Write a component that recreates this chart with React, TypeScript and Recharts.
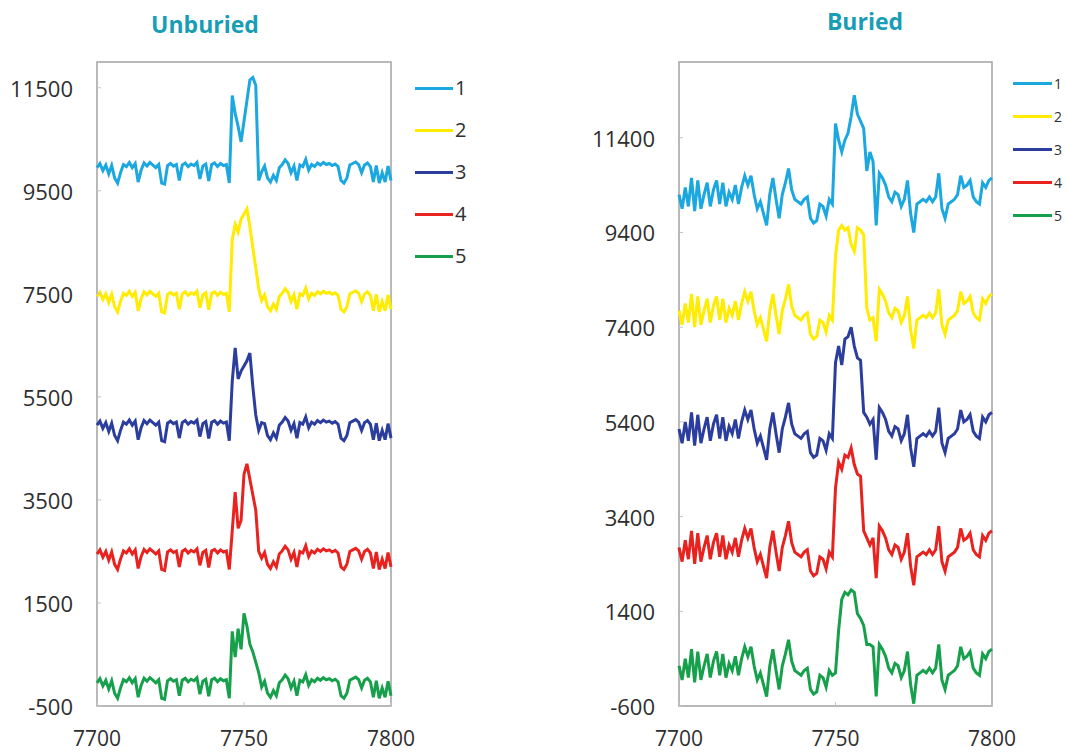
import React from 'react';
import { LineChart, Line, XAxis, YAxis, ReferenceArea, Legend } from 'recharts';

// Wavenumber axis (categories)
const wavenumbers = [
  7700, 7701, 7702, 7703, 7704, 7705, 7706, 7707, 7708, 7709,
  7710, 7711, 7712, 7713, 7714, 7715, 7716, 7717, 7718, 7719,
  7720, 7721, 7722, 7723, 7724, 7725, 7726, 7727, 7728, 7729,
  7730, 7731, 7732, 7733, 7734, 7735, 7736, 7737, 7738, 7739,
  7740, 7741, 7742, 7743, 7744, 7745, 7746, 7747, 7748, 7749,
  7750, 7751, 7752, 7753, 7754, 7755, 7756, 7757, 7758, 7759,
  7760, 7761, 7762, 7763, 7764, 7765, 7766, 7767, 7768, 7769,
  7770, 7771, 7772, 7773, 7774, 7775, 7776, 7777, 7778, 7779,
  7780, 7781, 7782, 7783, 7784, 7785, 7786, 7787, 7788, 7789,
  7790, 7791, 7792, 7793, 7794, 7795, 7796, 7797, 7798, 7799,
  7800,
];

// Unburied series
const unburied1 = [
  9950, 10030, 9890, 10000, 9830, 9990, 9750, 9650, 9850, 10010,
  9970, 10050, 9950, 10030, 9670, 9900, 10040, 9980, 10050, 10000,
  9950, 10010, 9650, 9630, 9990, 10030, 9980, 10010, 9700, 10000,
  10040, 9970, 10020, 9990, 10050, 9730, 9980, 10020, 9690, 10010,
  10040, 9970, 10030, 9990, 10010, 9650, 11350, 11000, 10750, 10450,
  10850, 11250, 11650, 11700, 11550, 9700, 9870, 9980, 9750, 9670,
  9800, 9700, 9950, 10010, 10100, 10030, 9850, 9980, 9700, 10000,
  9970, 10110, 9900, 10010, 9970, 10040, 10000, 10050, 10010, 10030,
  9990, 10020, 9970, 9700, 9650, 9750, 10000, 10030, 10060, 10010,
  9850, 10000, 10040, 9970, 9670, 9990, 9650, 9850, 9670, 9980,
  9700,
];
const unburied2 = [
  7450, 7530, 7390, 7500, 7330, 7490, 7250, 7150, 7350, 7510,
  7470, 7550, 7450, 7530, 7170, 7400, 7540, 7480, 7550, 7500,
  7450, 7510, 7150, 7130, 7490, 7530, 7480, 7510, 7200, 7500,
  7540, 7470, 7520, 7490, 7550, 7230, 7480, 7520, 7190, 7510,
  7540, 7470, 7530, 7490, 7510, 7150, 8550, 8850, 8700, 8950,
  9050, 9150, 8800, 8400, 8000, 7600, 7370, 7480, 7250, 7170,
  7300, 7200, 7450, 7510, 7600, 7530, 7350, 7480, 7200, 7500,
  7470, 7610, 7400, 7510, 7470, 7540, 7500, 7550, 7510, 7530,
  7490, 7520, 7470, 7200, 7150, 7250, 7500, 7530, 7560, 7510,
  7350, 7500, 7540, 7470, 7170, 7490, 7150, 7350, 7170, 7480,
  7200,
];
const unburied3 = [
  4950, 5030, 4890, 5000, 4830, 4990, 4750, 4650, 4850, 5010,
  4970, 5050, 4950, 5030, 4670, 4900, 5040, 4980, 5050, 5000,
  4950, 5010, 4650, 4630, 4990, 5030, 4980, 5010, 4700, 5000,
  5040, 4970, 5020, 4990, 5050, 4730, 4980, 5020, 4690, 5010,
  5040, 4970, 5030, 4990, 5010, 4650, 5800, 6450, 5850, 6000,
  6100, 6200, 6350, 5700, 5150, 4850, 5000, 4980, 4750, 4670,
  4800, 4700, 4950, 5010, 5100, 5030, 4850, 4980, 4700, 5000,
  4970, 5110, 4900, 5010, 4970, 5040, 5000, 5050, 5010, 5030,
  4990, 5020, 4970, 4700, 4650, 4750, 5000, 5030, 5060, 5010,
  4850, 5000, 5040, 4970, 4670, 4990, 4650, 4850, 4670, 4980,
  4700,
];
const unburied4 = [
  2450, 2530, 2390, 2500, 2330, 2490, 2250, 2150, 2350, 2510,
  2470, 2550, 2450, 2530, 2170, 2400, 2540, 2480, 2550, 2500,
  2450, 2510, 2150, 2130, 2490, 2530, 2480, 2510, 2200, 2500,
  2540, 2470, 2520, 2490, 2550, 2230, 2480, 2520, 2190, 2510,
  2540, 2470, 2530, 2490, 2510, 2150, 2900, 3650, 2950, 3100,
  4000, 4200, 3900, 3600, 3300, 2500, 2370, 2480, 2250, 2170,
  2300, 2200, 2450, 2510, 2600, 2530, 2350, 2480, 2200, 2500,
  2470, 2610, 2400, 2510, 2470, 2540, 2500, 2550, 2510, 2530,
  2490, 2520, 2470, 2200, 2150, 2250, 2500, 2530, 2560, 2510,
  2350, 2500, 2540, 2470, 2170, 2490, 2150, 2350, 2170, 2480,
  2200,
];
const unburied5 = [
  -50, 30, -110, 0, -170, -10, -250, -350, -150, 10,
  -30, 50, -50, 30, -330, -100, 40, -20, 50, 0,
  -50, 10, -350, -370, -10, 30, -20, 10, -300, 0,
  40, -30, 20, -10, 50, -270, -20, 20, -310, 10,
  40, -30, 30, -10, 10, -350, 950, 450, 1000, 600,
  1300, 1050, 700, 550, 350, 150, -130, -20, -250, -330,
  -200, -300, -50, 10, 100, 30, -150, -20, -300, 0,
  -30, 110, -100, 10, -30, 40, 0, 50, 10, 30,
  -10, 20, -30, -300, -350, -250, 0, 30, 60, 10,
  -150, 0, 40, -30, -330, -10, -350, -150, -330, -20,
  -300,
];

// Buried series
const buried1 = [
  10200, 9900, 10350, 9950, 10550, 9850, 10500, 9900, 10200, 10450,
  9950, 10300, 10500, 10000, 10450, 9950, 10250, 10100, 10400, 10000,
  10350, 10600, 10400, 10600, 10200, 9900, 10050, 9800, 9550, 10200,
  10550, 10100, 9700, 10200, 10450, 10750, 10300, 10100, 10050, 10000,
  10100, 10150, 9700, 9600, 9650, 10000, 9950, 9750, 10100, 10000,
  11700, 11350, 11100, 11350, 11500, 11850, 12300, 11900, 11750, 11600,
  10700, 11100, 10900, 9550, 10650, 10550, 10400, 10150, 10050, 10250,
  10200, 9950, 10100, 10500, 9800, 9400, 10000, 10050, 10100, 10050,
  10150, 10050, 10150, 10650, 9900, 9700, 10000, 10050, 10100, 10200,
  10600, 10350, 10400, 10500, 10150, 10050, 10000, 10450, 10350, 10500,
  10550,
];
const buried2 = [
  7750, 7450, 7900, 7500, 8100, 7400, 8050, 7450, 7750, 8000,
  7500, 7850, 8050, 7550, 8000, 7500, 7800, 7650, 7950, 7550,
  7900, 8150, 7950, 8150, 7750, 7450, 7600, 7350, 7100, 7750,
  8100, 7650, 7250, 7750, 8000, 8300, 7850, 7650, 7600, 7550,
  7650, 7700, 7250, 7150, 7200, 7550, 7500, 7300, 7650, 7550,
  8900, 9450, 9550, 9450, 9500, 9150, 9000, 9500, 9450, 9350,
  7800, 7550, 7600, 7100, 8200, 8100, 7950, 7700, 7600, 7800,
  7750, 7500, 7650, 8050, 7350, 6950, 7550, 7600, 7650, 7600,
  7700, 7600, 7700, 8200, 7450, 7250, 7550, 7600, 7650, 7750,
  8150, 7900, 7950, 8050, 7700, 7600, 7550, 8000, 7900, 8050,
  8100,
];
const buried3 = [
  5250, 4950, 5400, 5000, 5600, 4900, 5550, 4950, 5250, 5500,
  5000, 5350, 5550, 5050, 5500, 5000, 5300, 5150, 5450, 5050,
  5400, 5650, 5450, 5650, 5250, 4950, 5100, 4850, 4600, 5250,
  5600, 5150, 4750, 5250, 5500, 5800, 5350, 5150, 5100, 5050,
  5150, 5200, 4750, 4650, 4700, 5050, 5000, 4800, 5150, 5050,
  6650, 7000, 6600, 7150, 7200, 7400, 7000, 6750, 6700, 5600,
  5500, 5350, 5450, 4600, 5700, 5600, 5450, 5200, 5100, 5300,
  5250, 5000, 5150, 5550, 4850, 4450, 5050, 5100, 5150, 5100,
  5200, 5100, 5200, 5700, 4950, 4750, 5050, 5100, 5150, 5250,
  5650, 5400, 5450, 5550, 5200, 5100, 5050, 5500, 5400, 5550,
  5600,
];
const buried4 = [
  2750, 2450, 2900, 2500, 3100, 2400, 3050, 2450, 2750, 3000,
  2500, 2850, 3050, 2550, 3000, 2500, 2800, 2650, 2950, 2550,
  2900, 3150, 2950, 3150, 2750, 2450, 2600, 2350, 2100, 2750,
  3100, 2650, 2250, 2750, 3000, 3300, 2850, 2650, 2600, 2550,
  2650, 2700, 2250, 2150, 2200, 2550, 2500, 2300, 2650, 2550,
  4000, 4550, 4400, 4700, 4650, 4850, 4500, 4300, 4250, 3100,
  2950, 2800, 2950, 2100, 3200, 3100, 2950, 2700, 2600, 2800,
  2750, 2500, 2650, 3050, 2350, 1950, 2550, 2600, 2650, 2600,
  2700, 2600, 2700, 3200, 2450, 2250, 2550, 2600, 2650, 2750,
  3150, 2900, 2950, 3050, 2700, 2600, 2550, 3000, 2900, 3050,
  3100,
];
const buried5 = [
  250, -50, 400, 0, 600, -100, 550, -50, 250, 500,
  0, 350, 550, 50, 500, 0, 300, 150, 450, 50,
  400, 650, 450, 650, 250, -50, 100, -150, -400, 250,
  600, 150, -250, 250, 500, 800, 350, 150, 100, 50,
  150, 200, -250, -350, -300, 50, 0, -200, 150, 50,
  100, 1000, 1650, 1800, 1750, 1850, 1800, 1350, 1250, 1100,
  700, 700, 650, -400, 700, 600, 450, 200, 100, 300,
  250, 0, 150, 550, -150, -550, 50, 100, 150, 100,
  200, 100, 200, 700, -50, -250, 50, 100, 150, 250,
  650, 400, 450, 550, 200, 100, 50, 500, 400, 550,
  600,
];

const seriesNames = ['1', '2', '3', '4', '5'];
const seriesColors = ['#1ba7df', '#ffec00', '#2b3d9d', '#e8221f', '#17a04b'];

const xTicks = [7700, 7750, 7800];
const unburiedTicks = [-500, 1500, 3500, 5500, 7500, 9500, 11500];
const buriedTicks = [-600, 1400, 3400, 5400, 7400, 9400, 11400];
const unburiedDomain = [-500, 12000];
const buriedDomain = [-600, 13000];

const seriesKeys = ['s1', 's2', 's3', 's4', 's5'];

const unburiedData = wavenumbers.map((x, i) => ({
  x,
  s1: unburied1[i],
  s2: unburied2[i],
  s3: unburied3[i],
  s4: unburied4[i],
  s5: unburied5[i],
}));
const buriedData = wavenumbers.map((x, i) => ({
  x,
  s1: buried1[i],
  s2: buried2[i],
  s3: buried3[i],
  s4: buried4[i],
  s5: buried5[i],
}));

const FONT = '"Open Sans", "Liberation Sans", sans-serif';
const TEXT = '#2e2e2e';

const YTick = (props: any) => {
  const { x, y, payload } = props;
  return (
    <g>
      <line x1={x + 24} x2={x + 28} y1={y} y2={y} stroke="#c4c4c4" strokeWidth={1} />
      <text x={x} y={y} textAnchor="end" dominantBaseline="central" fontSize={22} fill={TEXT} fontFamily={FONT}>
        {payload.value}
      </text>
    </g>
  );
};

const XTick = (props: any) => {
  const { x, y, payload } = props;
  return (
    <g>
      <line x1={x} x2={x} y1={y - 27} y2={y - 31} stroke="#c4c4c4" strokeWidth={1} />
      <text x={x} y={y + 12.5} textAnchor="middle" fontSize={21} fill={TEXT} fontFamily={FONT}>
        {payload.value}
      </text>
    </g>
  );
};

const makeLegend = (rowH: number, lineLen: number, fontSize: number) => (props: any) => {
  const payload = props.payload || [];
  return (
    <div style={{ fontFamily: FONT }}>
      {payload.map((item: any) => (
        <div key={item.value} style={{ display: 'flex', alignItems: 'center', height: rowH }}>
          <div style={{ width: lineLen, height: 3, background: item.color }} />
          <span style={{ fontSize, color: TEXT, marginLeft: 2, lineHeight: 1 }}>{item.value}</span>
        </div>
      ))}
    </div>
  );
};

type PanelProps = {
  data: any[];
  left: number;
  width: number;
  margin: { top: number; right: number; bottom: number; left: number };
  domain: number[];
  ticks: number[];
  legendLeft: number;
  legendTop: number;
  legendRow: number;
  legendLine: number;
  legendFont: number;
};

const Panel = (p: PanelProps) => (
  <div style={{ position: 'absolute', left: p.left, top: 0 }}>
    <LineChart width={p.width} height={752} data={p.data} margin={p.margin}>
      <ReferenceArea
        x1={7700}
        x2={7800}
        y1={p.domain[0]}
        y2={p.domain[1]}
        fill="none"
        stroke="#a3a3a3"
        strokeWidth={1.5}
        ifOverflow="visible"
      />
      <XAxis
        dataKey="x"
        type="number"
        domain={[7700, 7800]}
        ticks={xTicks}
        interval={0}
        axisLine={false}
        tickLine={false}
        tickSize={0}
        tickMargin={27}
        height={30}
        tick={<XTick />}
      />
      <YAxis
        type="number"
        domain={p.domain}
        ticks={p.ticks}
        interval={0}
        axisLine={false}
        tickLine={false}
        tickSize={0}
        tickMargin={24}
        width={90}
        allowDataOverflow
        tick={<YTick />}
      />
      <Legend
        layout="vertical"
        align="center"
        verticalAlign="middle"
        wrapperStyle={{ left: p.legendLeft, top: p.legendTop, width: 80 }}
        content={makeLegend(p.legendRow, p.legendLine, p.legendFont)}
      />
      {seriesKeys.map((k, i) => (
        <Line
          key={k}
          type="linear"
          dataKey={k}
          name={seriesNames[i]}
          stroke={seriesColors[i]}
          strokeWidth={3}
          dot={false}
          activeDot={false}
          isAnimationActive={false}
        />
      ))}
    </LineChart>
  </div>
);

export default function App() {
  return (
    <div style={{ position: 'absolute', left: 0, top: 0, width: 1066, height: 752, background: '#fff', overflow: 'hidden' }}>
      <svg width={1066} height={752} style={{ position: 'absolute', left: 0, top: 0 }}>
        <text x={205} y={33} textAnchor="middle" fontSize={23} fontWeight={700} fill="#189db5" fontFamily={FONT}>
          Unburied
        </text>
        <text x={865} y={30} textAnchor="middle" fontSize={23} fontWeight={700} fill="#189db5" fontFamily={FONT}>
          Buried
        </text>
      </svg>
      <Panel
        data={unburiedData}
        left={0}
        width={480}
        margin={{ top: 62, right: 89, bottom: 16, left: 7 }}
        domain={unburiedDomain}
        ticks={unburiedTicks}
        legendLeft={415}
        legendTop={67}
        legendRow={42}
        legendLine={38}
        legendFont={20}
      />
      <Panel
        data={buriedData}
        left={560}
        width={506}
        margin={{ top: 62, right: 74, bottom: 16, left: 29 }}
        domain={buriedDomain}
        ticks={buriedTicks}
        legendLeft={453}
        legendTop={67}
        legendRow={33}
        legendLine={39}
        legendFont={14}
      />
    </div>
  );
}
